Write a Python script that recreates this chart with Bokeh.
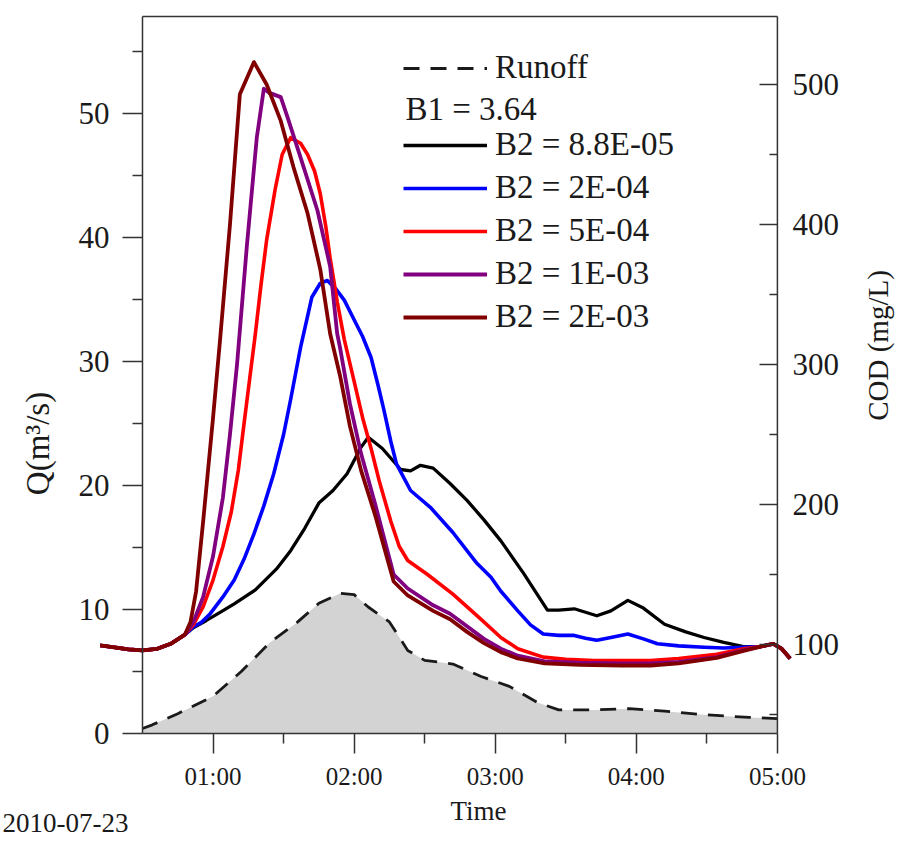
import math
from bokeh.plotting import figure
from bokeh.models import Range1d, LinearAxis, FixedTicker, Legend, LegendItem, Label
from bokeh.embed import file_html
from bokeh.resources import INLINE

FONT = "Liberation Serif"
TXT = "#1a1a1a"
AX = "#333333"
W, H = 900, 860

# ---------------- data ----------------
# time in hours after 00:00 on 2010-07-23
t_start, t_end = 0.5, 5.0
q_top = 57.82

x_ticks = [1, 2, 3, 4, 5]
x_minor = [1.5, 2.5, 3.5, 4.5]
x_tick_labels = ["01:00", "02:00", "03:00", "04:00", "05:00"]
q_ticks = [0, 10, 20, 30, 40, 50]
q_minor = [5, 15, 25, 35, 45, 55]
cod_ticks = [100, 200, 300, 400, 500]
cod_minor = [50, 150, 250, 350, 450]

# Runoff Q (m3/s)
run_t = [0.5, 0.57, 0.75, 1.0, 1.2, 1.4, 1.6, 1.75, 1.9, 2.0, 2.1, 2.25, 2.38,
         2.5, 2.7, 2.9, 3.1, 3.3, 3.45, 3.7, 3.95, 4.2, 4.5, 4.8, 5.0]
run_q = [0.4, 0.7, 1.6, 3.0, 5.0, 7.3, 9.0, 10.5, 11.3, 11.2, 10.2, 9.0, 6.7,
         5.9, 5.6, 4.6, 3.8, 2.5, 1.9, 1.9, 2.0, 1.8, 1.5, 1.3, 1.2]

# common start / end of the COD curves (mg/L)
head_t = [0.2, 0.3, 0.4, 0.5, 0.6, 0.7, 0.8]
head_cod = [99.3, 98.0, 96.5, 95.8, 96.8, 100.5, 107.0]
tail_t = [4.88, 4.97, 5.03, 5.09]
tail_cod = [98.5, 100.5, 97.0, 90.0]

black_t = [0.86, 0.95, 1.05, 1.15, 1.3, 1.45, 1.55, 1.65, 1.75, 1.85, 1.95, 2.05,
           2.1, 2.2, 2.33, 2.4, 2.47, 2.56, 2.68, 2.8, 2.92, 3.04, 3.2, 3.37,
           3.45, 3.56, 3.64, 3.72, 3.82, 3.94, 4.05, 4.2, 4.35, 4.48, 4.62, 4.76]
black_cod = [112, 117, 123, 129, 139, 154, 167, 183, 201, 210, 222, 241,
             248, 240, 225, 224, 228, 226, 215, 203, 189, 174, 151, 124.5,
             124.5, 125.5, 123, 120.5, 124, 131.5, 126, 114.5, 109, 105, 101.5, 98.5]

blue_t = [0.86, 0.92, 0.98, 1.07, 1.15, 1.22, 1.29, 1.36, 1.43, 1.5, 1.55, 1.62,
          1.7, 1.76, 1.81, 1.87, 1.93, 2.0, 2.06, 2.12, 2.17, 2.21, 2.26, 2.3,
          2.4, 2.54, 2.7, 2.87, 2.97, 3.04, 3.16, 3.25, 3.34, 3.45, 3.56, 3.64,
          3.72, 3.82, 3.94, 4.05, 4.15, 4.3, 4.48, 4.62, 4.76]
blue_cod = [112.5, 116, 122, 134, 146, 161, 179, 199, 222, 250, 275, 312,
            348, 358, 360, 354, 346, 332, 320, 305, 285, 268, 245, 229,
            210, 198, 180, 158, 148, 138, 124, 114, 107.5, 106.5, 106.5, 104.5,
            103, 105, 107.5, 104, 100.5, 99, 98, 97.5, 98]

red_t = [0.86, 0.93, 1.0, 1.07, 1.13, 1.18, 1.22, 1.26, 1.3, 1.34, 1.38, 1.44,
         1.49, 1.55, 1.62, 1.67, 1.72, 1.76, 1.8, 1.83, 1.88, 1.93, 2.0, 2.06,
         2.12, 2.18, 2.26, 2.32, 2.38, 2.52, 2.7, 2.9, 3.04, 3.16, 3.34, 3.5,
         3.7, 3.9, 4.1, 4.3, 4.57, 4.76]
red_cod = [114, 127, 146, 170, 195, 225, 258, 290, 322, 357, 389, 425,
           450, 462, 458, 450, 438, 422, 398, 376, 345, 318, 288, 262,
           240, 216, 188, 170, 160, 150, 136, 118, 105, 97, 91, 89.5,
           88.5, 88.5, 88.5, 90, 93, 97]

purple_t = [0.86, 0.93, 1.0, 1.07, 1.12, 1.17, 1.24, 1.31, 1.36, 1.4, 1.48, 1.53,
            1.62, 1.74, 1.83, 1.88, 1.9, 1.97, 2.05, 2.15, 2.28, 2.38, 2.56,
            2.68, 2.8, 2.92, 3.04, 3.16, 3.35, 3.6, 3.9, 4.1, 4.3, 4.57, 4.76]
purple_cod = [116, 134, 163, 205, 250, 300, 385, 462, 497, 494, 491, 476,
              448, 410, 370, 322, 312, 272, 236, 200, 150, 140, 128,
              122, 113, 104, 97, 92, 88, 87, 86.5, 86.5, 87.5, 91, 96]

dred_t = [0.84, 0.88, 0.93, 1.0, 1.05, 1.12, 1.19, 1.29, 1.38, 1.48, 1.57, 1.67,
          1.76, 1.83, 1.9, 1.97, 2.05, 2.15, 2.28, 2.38, 2.56, 2.68, 2.8, 2.92,
          3.04, 3.16, 3.35, 3.6, 3.9, 4.1, 4.3, 4.57, 4.76]
dred_cod = [116, 138, 188, 262, 318, 400, 493, 516, 500, 474, 441, 408,
            368, 322, 292, 256, 224, 192, 145, 135, 124, 118, 109, 101,
            94.5, 90, 86.5, 85.5, 85, 85, 86.5, 90.5, 95.5]

series = [
    ("B2 = 8.8E-05", black_t, black_cod, "#000000", 3.3),
    ("B2 = 2E-04", blue_t, blue_cod, "#0000ff", 3.6),
    ("B2 = 5E-04", red_t, red_cod, "#ff0000", 3.6),
    ("B2 = 1E-03", purple_t, purple_cod, "#800080", 3.8),
    ("B2 = 2E-03", dred_t, dred_cod, "#800000", 3.8),
]

# ---------------- figure ----------------
# plotting frame spans the whole canvas so that the curves may run past the
# axes, as in the original; axes are placed with fixed_location
p = figure(width=W, height=H, output_backend="svg", toolbar_location=None,
           x_range=Range1d(-0.5064, 5.8724), y_range=Range1d(-10.242, 59.113),
           x_axis_location=None, y_axis_location=None,
           min_border_left=0, min_border_right=0, min_border_top=0,
           min_border_bottom=0)
p.extra_y_ranges = {"cod": Range1d(-54.29, 560.0)}
p.outline_line_color = None
p.background_fill_color = "white"
p.border_fill_color = "white"
p.grid.visible = False
p.renderers = [r for r in p.renderers if r.__class__.__name__ != "Grid"]
p.center = [c for c in p.center if c.__class__.__name__ != "Grid"]

# runoff area + dashed line (left axis)
p.varea(x=run_t, y1=0, y2=run_q, fill_color="#d3d3d3")
runoff = p.line(run_t, run_q, line_color="#1a1a1a", line_width=2.8, line_dash="16 11")

# COD curves (right axis)
items = []
for name, tt, cc, col, lw in series:
    r = p.line(head_t + tt + tail_t, head_cod + cc + tail_cod, y_range_name="cod",
               line_color=col, line_width=lw, line_join="round")
    items.append(LegendItem(label=name, renderers=[r]))

# plot box
p.segment(x0=[t_start, t_start, t_start, t_end], y0=[0, q_top, 0, 0],
          x1=[t_end, t_end, t_start, t_end], y1=[0, q_top, q_top, q_top],
          line_color=AX, line_width=1.5)

def tick_style(ax, out_major, in_major, out_minor, in_minor, standoff, size):
    ax.axis_line_color = None
    ax.major_tick_out = out_major
    ax.major_tick_in = in_major
    ax.minor_tick_out = out_minor
    ax.minor_tick_in = in_minor
    ax.major_tick_line_color = AX
    ax.minor_tick_line_color = AX
    ax.major_tick_line_width = 1.5
    ax.minor_tick_line_width = 1.5
    ax.major_label_standoff = standoff
    ax.major_label_text_font = FONT
    ax.major_label_text_font_size = size
    ax.major_label_text_color = TXT

# x axis (time)
xa = LinearAxis(fixed_location=0, ticker=FixedTicker(ticks=x_ticks, minor_ticks=x_minor))
xa.major_label_overrides = dict(zip(x_ticks, x_tick_labels))
tick_style(xa, 20, 0, 10, 0, 10, "25px")
p.add_layout(xa, "below")

# left axis (Q)
ya = LinearAxis(fixed_location=t_start,
                ticker=FixedTicker(ticks=q_ticks, minor_ticks=q_minor))
tick_style(ya, 20, 0, 10, 0, 13, "31px")
p.add_layout(ya, "left")

# right axis (COD)
yb = LinearAxis(y_range_name="cod", fixed_location=t_end,
                ticker=FixedTicker(ticks=cod_ticks, minor_ticks=cod_minor))
tick_style(yb, 0, 18, 0, 8, 15, "31px")
p.add_layout(yb, "right")

# axis titles and date (screen units from the bottom-left corner)
def lab(text, x, y, size, angle=0.0, align="center"):
    p.add_layout(Label(x=x, y=H - y, x_units="screen", y_units="screen", text=text,
                       angle=angle, text_align=align, text_baseline="middle",
                       text_font=FONT, text_font_size=size, text_color=TXT))

lab("Q(m³/s)", 37, 443, "33px", math.pi / 2)
lab("COD (mg/L)", 877, 345, "29px", math.pi / 2)
lab("Time", 478, 810, "27px")
lab("2010-07-23", 65, 822, "27px")
lab("B1 = 3.64", 405, 108, "33px", align="left")

# legends
def style(leg):
    leg.border_line_color = None
    leg.background_fill_alpha = 0
    leg.padding = 0
    leg.margin = 0
    leg.spacing = 6
    leg.glyph_width = 84
    leg.glyph_height = 36
    leg.label_height = 36
    leg.label_standoff = 8
    leg.label_text_font = FONT
    leg.label_text_font_size = "33px"
    leg.label_text_color = TXT
    leg.label_text_baseline = "middle"

leg1 = Legend(items=[LegendItem(label="Runoff", renderers=[runoff])], location=(403, H - 86))
style(leg1)
p.add_layout(leg1, "center")

leg2 = Legend(items=items, location=(403, H - 335))
style(leg2)
p.add_layout(leg2, "center")

open("out.html", "w").write(file_html(p, INLINE))
